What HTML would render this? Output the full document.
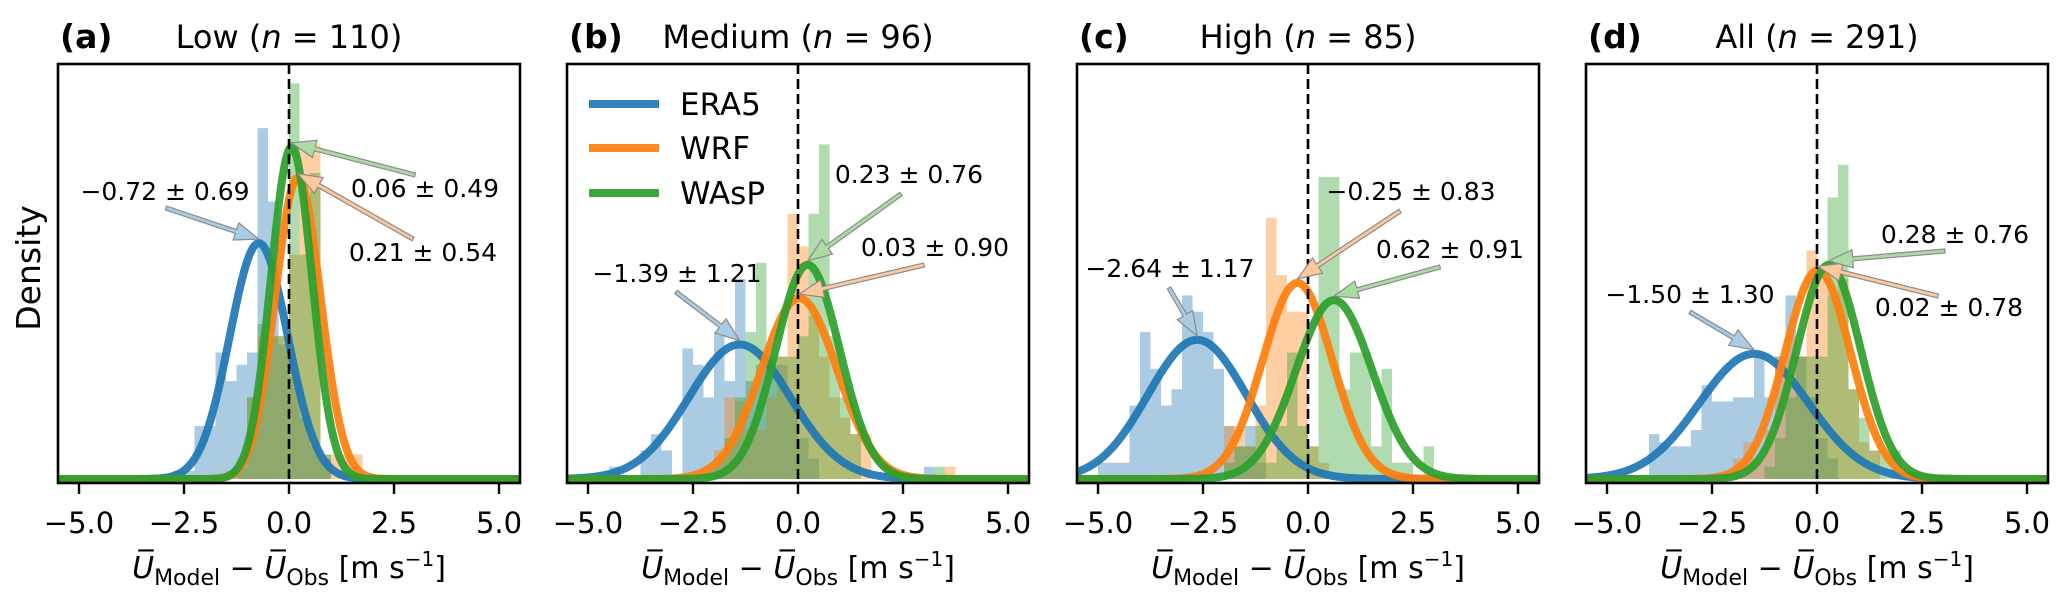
<!DOCTYPE html>
<html><head><meta charset="utf-8"><style>
html,body{margin:0;padding:0;background:#fff;}
svg{display:block;font-family:"DejaVu Sans","Liberation Sans",sans-serif;}
</style></head><body>
<svg id="fig" width="2067" height="599" viewBox="0 0 2067 599" xmlns="http://www.w3.org/2000/svg"></svg>
<script>
// ---- data ----
const panelLetters = ["(a)","(b)","(c)","(d)"];
const panelNames = ["Low","Medium","High","All"];
const panelCounts = [110,96,85,291];
const seriesNames = ["ERA5","WRF","WAsP"];
const means = [[-0.72,0.21,0.06],[-1.39,0.03,0.23],[-2.64,-0.25,0.62],[-1.50,0.02,0.28]];
const sds = [[0.69,0.54,0.49],[1.21,0.90,0.76],[1.17,0.83,0.91],[1.30,0.78,0.76]];
const binWidth = 0.25;
const histStart = [[-2.75,-1.5,-1.25],[-4.5,-2.0,-2.25],[-5.0,-2.0,-2.0],[-4.0,-2.0,-1.25]];
const histA_era5 = [0.02,0.02,0.13,0.13,0.31,0.24,0.28,0.31,0.86,0.68,0.33,0.25,0.15,0.08,0.05];
const histA_wrf = [0.02,0.05,0.2,0.35,0.35,0.35,0.55,0.82,0.82,0.06,0.06,0.06,0.06];
const histA_wasp = [0.03,0.2,0.38,0.35,0.35,0.97,0.55,0.75,0.06];
const histB_era5 = [0.03,0,0,0.07,0.11,0.07,0,0.32,0.28,0.2,0.36,0.24,0.49,0.24,0.28,0.28,0.28,0.2,0.1,0.05,0,0,0,0,0,0,0,0,0,0,0.03];
const histB_wrf = [0.07,0.2,0.19,0.12,0.12,0.2,0.3,0.65,0.57,0.4,0.3,0.2,0.15,0.11,0.11,0,0,0,0,0,0,0,0.03];
const histB_wasp = [0.03,0.05,0.1,0.2,0.36,0.53,0.3,0.3,0.3,0.35,0.65,0.82,0.35,0.2,0.11,0,0,0,0,0,0,0,0.03];
const histC_era5 = [0.04,0.04,0.04,0.18,0.36,0.27,0.18,0.22,0.45,0.41,0.36,0.27,0.13,0.08,0.13,0.04];
const histC_wrf = [0.13,0.13,0.08,0.18,0.64,0.5,0.41,0.41,0.08,0.04];
const histC_wasp = [0.04,0.08,0.08,0.13,0.04,0.13,0.31,0.13,0.08,0.74,0.74,0.22,0.31,0.31,0.08,0.27,0.04,0.04,0,0.08];
const histD_era5 = [0.11,0.09,0.08,0.08,0.12,0.23,0.19,0.19,0.2,0.2,0.31,0.2,0.3,0.45,0.3,0.2,0.1,0.05];
const histD_wrf = [0.05,0.09,0.05,0.12,0.3,0.35,0.3,0.56,0.5,0.45,0.49,0.22,0.09,0.07];
const histD_wasp = [0.03,0.1,0.2,0.3,0.3,0.3,0.69,0.77,0.22,0.15,0.07,0.07,0.07,0,0,0,0.01];
const histData = [[histA_era5,histA_wrf,histA_wasp],[histB_era5,histB_wrf,histB_wasp],[histC_era5,histC_wrf,histC_wasp],[histD_era5,histD_wrf,histD_wasp]];
const xTicks = [-5,-2.5,0,2.5,5];
const xTickLabels = ["\u22125.0","\u22122.5","0.0","2.5","5.0"];
// ---- layout (not data) ----
const L = {lefts:[58,567,1077,1586], w:462, top:64, bottom:483, y0:479, yScale:408, xmin:-5.5, xmax:5.5};
const colors = ["#1f77b4","#ff7f0e","#2ca02c"];
const lightFill = ["#a9cbe4","#fdc89c","#a9dba3"];
const annotLayout = [
 [[165,191,166,208],[423,252,413,239],[425,188,415,175]],
 [[677,273,676,292],[935,247,924,265],[909,174,901,194]],
 [[1170,268,1169,288],[1411,191,1400,211],[1450,249,1440,267]],
 [[1690,294,1690,312],[1949,307,1938,296],[1955,234,1945,251]]
];
const NS="http://www.w3.org/2000/svg";
const svg=document.getElementById('fig');
function mk(tag,attrs,parent){const e=document.createElementNS(NS,tag);for(const k in attrs)e.setAttribute(k,attrs[k]);(parent||svg).appendChild(e);return e;}
function fmt(v){return (v<0?"\u2212":"")+Math.abs(v).toFixed(2);}
function pdf(x,m,s){return Math.exp(-0.5*((x-m)/s)**2)/(s*Math.sqrt(2*Math.PI));}

for(let p=0;p<4;p++){
  const left=L.lefts[p];
  const xs=v=>left+(v-L.xmin)/(L.xmax-L.xmin)*L.w;
  const ys=d=>L.y0-d*L.yScale;
  const g=mk('g',{});
  
  
  const cp=mk('clipPath',{id:'clip'+p},g);
  mk('rect',{x:left,y:L.top,width:L.w,height:L.bottom-L.top},cp);
  const plot=mk('g',{'clip-path':'url(#clip'+p+')'},g);
  for(let s=0;s<3;s++){
    const hg=mk('g',{},plot);
    
    
    histData[p][s].forEach((h,i)=>{
      if(h<=0)return;
      const a=histStart[p][s]+i*binWidth;
      const r=mk('rect',{x:xs(a),y:ys(h),width:xs(a+binWidth)-xs(a),height:ys(0)-ys(h),fill:colors[s],'fill-opacity':0.38},hg);
      
      
    });
  }
  for(let s=0;s<3;s++){
    let d="";
    for(let i=0;i<=300;i++){const x=L.xmin-0.2+(L.xmax-L.xmin+0.4)*i/300;d+=(i?"L":"M")+xs(x).toFixed(2)+","+ys(pdf(x,means[p][s],sds[p][s])).toFixed(2);}
    const c=mk('path',{d:d,fill:'none',stroke:colors[s],'stroke-width':8,'stroke-opacity':0.92,'stroke-linejoin':'round'},plot);
    
    
  }
  const zl=mk('line',{x1:xs(0),x2:xs(0),y1:L.top,y2:L.bottom,stroke:'#000','stroke-width':2.6,'stroke-dasharray':'10,5'},g);
  
  
  const fr=mk('rect',{x:left,y:L.top,width:L.w,height:L.bottom-L.top,fill:'none',stroke:'#000','stroke-width':2.6},g);
  
  
  xTicks.forEach((t,i)=>{
    const tk=mk('line',{x1:xs(t),x2:xs(t),y1:L.bottom,y2:L.bottom+11,stroke:'#000','stroke-width':2.4},g);
    
    
    const tl=mk('text',{x:xs(t),y:533,'font-size':29,'text-anchor':'middle',fill:'#000'},g);
    tl.textContent=xTickLabels[i];
    
    
  });
  const xl=mk('text',{x:left+L.w/2,y:578,'font-size':30,'text-anchor':'middle',fill:'#000'},g);
  
  
  xl.innerHTML='<tspan font-style="italic">U\u0305</tspan><tspan font-size="22" dy="7">Model</tspan><tspan dy="-7"> \u2212 </tspan><tspan font-style="italic">U\u0305</tspan><tspan font-size="22" dy="7">Obs</tspan><tspan dy="-7"> [m s</tspan><tspan font-size="20" dy="-12">\u22121</tspan><tspan dy="12">]</tspan>';
  const pl=mk('text',{x:left+2,y:48,'font-size':33,'font-weight':'bold',fill:'#000'},g);
  pl.textContent=panelLetters[p];
  
  
  const ti=mk('text',{x:left+L.w/2,y:48,'font-size':32,'text-anchor':'middle',fill:'#000'},g);
  ti.innerHTML=panelNames[p]+' (<tspan font-style="italic">n</tspan> = '+panelCounts[p]+')';
  
  
  for(let s=0;s<3;s++){
    const [tx,ty,ax,ay]=annotLayout[p][s];
    const px=xs(means[p][s]), py=ys(pdf(means[p][s],means[p][s],sds[p][s]))-4;
    const dx=px-ax, dy=py-ay, len=Math.hypot(dx,dy), ux=dx/len, uy=dy/len, nx=-uy, ny=ux;
    const hl=24, bx=px-ux*hl, by=py-uy*hl;
    const pts=[[ax+nx*2,ay+ny*2],[bx+nx*2,by+ny*2],[bx+nx*9,by+ny*9],[px,py],[bx-nx*9,by-ny*9],[bx-nx*2,by-ny*2],[ax-nx*2,ay-ny*2]];
    const ar=mk('polygon',{points:pts.map(q=>q[0].toFixed(1)+','+q[1].toFixed(1)).join(' '),fill:lightFill[s],stroke:'#8c8c8c','stroke-width':1.2},g);
    
    
    const at=mk('text',{x:tx,y:ty+9,'font-size':25,'text-anchor':'middle',fill:'#000'},g);
    at.textContent=fmt(means[p][s])+' \u00b1 '+sds[p][s].toFixed(2);
    
    
  }
}
const yl=mk('text',{x:0,y:0,'font-size':33,'text-anchor':'middle',fill:'#000',transform:'translate(40,268) rotate(-90)'});
yl.textContent='Density';


const lg=mk('g',{});


const legendY=[104,148,193];
for(let s=0;s<3;s++){
  const ll=mk('line',{x1:589,x2:659,y1:legendY[s],y2:legendY[s],stroke:colors[s],'stroke-width':8,'stroke-opacity':0.92},lg);
  
  
  const lt=mk('text',{x:680,y:legendY[s]+11,'font-size':31,fill:'#000'},lg);
  lt.textContent=seriesNames[s];
  
  
}
</script>
</body></html>
